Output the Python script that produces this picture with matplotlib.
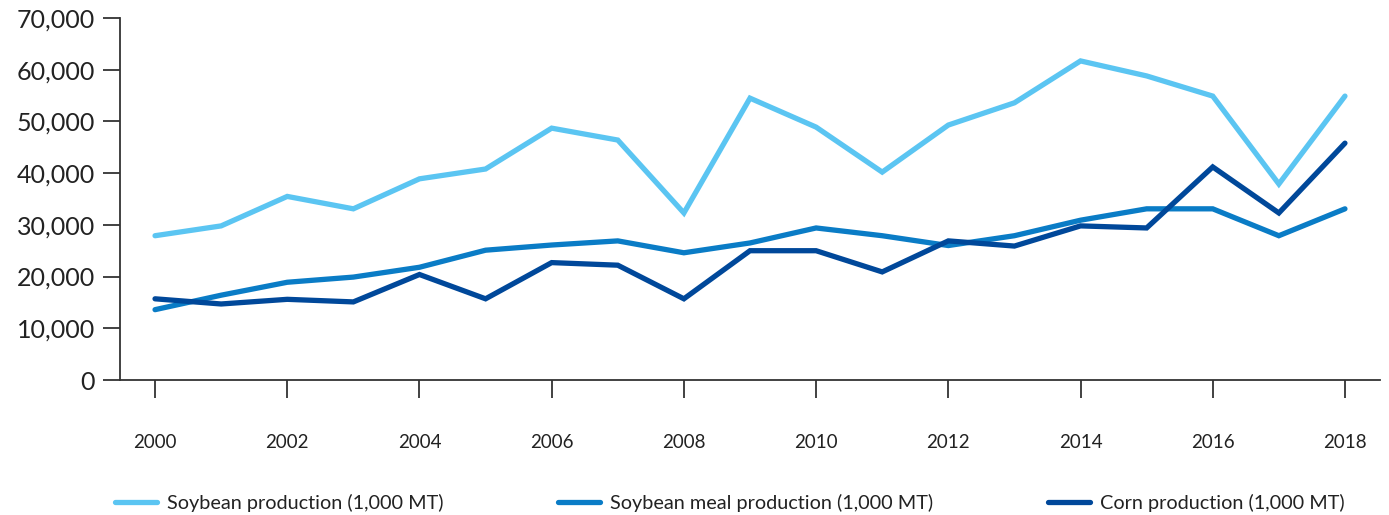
import matplotlib
matplotlib.use("Agg")
import matplotlib.pyplot as plt
import numpy as np

years = list(range(2000, 2019))
soybean = [27900, 29800, 35500, 33100, 38900, 40800, 48700, 46400, 32300, 54500,
           48900, 40200, 49300, 53600, 61700, 58800, 54900, 37900, 54900]
soy_meal = [13600, 16400, 18900, 19900, 21800, 25100, 26100, 26900, 24600, 26500,
            29400, 27900, 26000, 27900, 30900, 33100, 33100, 27900, 33100]
corn = [15700, 14700, 15600, 15100, 20400, 15700, 22700, 22200, 15700, 25000,
        25000, 20900, 26900, 25900, 29800, 29400, 41200, 32300, 45800]
labels = ["Soybean production (1,000 MT)", "Soybean meal production (1,000 MT)",
          "Corn production (1,000 MT)"]
colors = ["#5bc5f2", "#0a7cc6", "#00489a"]

plt.rcParams['font.family'] = ['Lato', 'DejaVu Sans']

fig = plt.figure(figsize=(13.89, 5.15), dpi=100)
ax = fig.add_axes([120/1389, 1-380/515, (1380-120)/1389, (380-18)/515])

for vals, lab, c in zip([soybean, soy_meal, corn], labels, colors):
    ax.plot(years, vals, color=c, lw=3.8, label=lab, solid_capstyle='round',
            solid_joinstyle='miter')

ax.set_xlim(1999.47, 2018.53)
ax.set_ylim(0, 70000)
ax.set_yticks(range(0, 70001, 10000))
ax.set_yticklabels([f"{v:,}" for v in range(0, 70001, 10000)], fontsize=18, color='#222222')
ax.set_xticks(range(2000, 2019, 2))
ax.set_xticklabels([str(y) for y in range(2000, 2019, 2)], fontsize=13.5, color='#222222')
ax.tick_params(axis='y', length=12, width=1.3, color='#333333', pad=6)
ax.tick_params(axis='x', length=13, width=1.3, color='#333333', pad=26)
for s in ['top', 'right']:
    ax.spines[s].set_visible(False)
for s in ['left', 'bottom']:
    ax.spines[s].set_linewidth(1.3)
    ax.spines[s].set_color('#333333')

leg = fig.legend(loc='center left', bbox_to_anchor=(115/1389, 1-503/515), ncol=3,
                 frameon=False, borderpad=0, borderaxespad=0,
                 fontsize=14.3, handlelength=2.1, columnspacing=5.8, handletextpad=0.5)
for t in leg.get_texts():
    t.set_color('#222222')

fig.savefig("out.png", dpi=100)
